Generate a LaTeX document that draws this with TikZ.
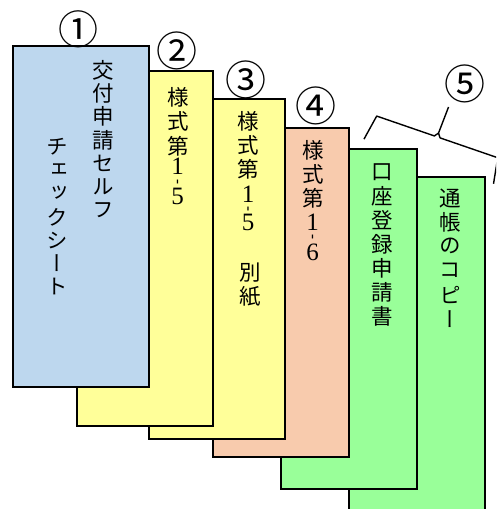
\documentclass[tikz,border=0pt]{standalone}
\usepackage{fontspec}
\newfontfamily\jpv[RawFeature={+vert}]{Noto Sans CJK JP}
\newfontfamily\jpn{Noto Sans CJK JP}
\newfontfamily\lser{Liberation Serif}
\definecolor{cblue}{HTML}{BDD7EE}
\definecolor{cyellow}{HTML}{FFFF99}
\definecolor{csalmon}{HTML}{F8CBAD}
\definecolor{cgreen}{HTML}{99FF99}
\begin{document}
\begin{tikzpicture}[x=1pt,y=-1pt,
  sheet/.style={draw=black,line width=1.6pt,minimum width=136pt,anchor=north west,inner sep=0pt},
  cj/.style={inner sep=0pt,font=\jpv\fontsize{21.5}{24}\selectfont},
  dg/.style={inner sep=0pt,font=\lser\fontsize{25}{25}\selectfont},
  hy/.style={inner sep=0pt,rotate=90,font=\lser\bfseries\fontsize{15}{15}\selectfont},
  num/.style={inner sep=0pt,font=\jpn\fontsize{41}{41}\selectfont},
  bracestyle/.style={draw=black,line width=1.4pt,line join=round}]
\useasboundingbox (0,0) rectangle (496,509);
\clip (0,0) rectangle (496,509);
% sheets, back to front
\node[sheet,fill=cgreen,minimum height=354pt] (s6) at (348,176) {};
\node[sheet,fill=cgreen,minimum height=340pt] (s5) at (280,148) {};
\node[sheet,fill=csalmon,minimum height=329pt] (s4) at (212,127) {};
\node[sheet,fill=cyellow,minimum height=340pt] (s3) at (148,98) {};
\node[sheet,fill=cyellow,minimum height=355pt] (s2) at (76,70) {};
\node[sheet,fill=cblue,minimum height=341pt] (s1) at (12,45) {};
% sheet 1 texts
\foreach \c [count=\i] in {交,付,申,請,セ,ル,フ}
  \node[cj] (ta\i) at (103,{70+23.3*(\i-1)}) {\c};
\foreach \c [count=\i] in {チ,ェ,ッ,ク,シ,ー,ト}
  \node[cj] (tb\i) at (57,{147+23.3*(\i-1)}) {\c};
% sheet 2
\foreach \c [count=\i] in {様,式,第}
  \node[cj] (tc\i) at (178,{97+24.5*(\i-1)}) {\c};
\node[dg] (dc1) at (177.5,166) {1};
\node[hy] (dc2) at (179,181.5) {-};
\node[dg] (dc3) at (177.5,196.5) {5};
% sheet 3
\foreach \c [count=\i] in {様,式,第}
  \node[cj] (td\i) at (248,{121.5+24*(\i-1)}) {\c};
\node[dg] (dd1) at (248,194) {1};
\node[hy] (dd2) at (249.5,208.5) {-};
\node[dg] (dd3) at (248,222.5) {5};
\node[cj] (td4) at (250,273) {別};
\node[cj] (td5) at (250,297) {紙};
% sheet 4
\foreach \c [count=\i] in {様,式,第}
  \node[cj] (te\i) at (313,{150.5+24*(\i-1)}) {\c};
\node[dg] (de1) at (312.5,222.5) {1};
\node[hy] (de2) at (314,236.5) {-};
\node[dg] (de3) at (312.5,252) {6};
% sheet 5
\foreach \c [count=\i] in {口,座,登,録,申,請,書}
  \node[cj] (tf\i) at (382,{172+24*(\i-1)}) {\c};
% sheet 6
\foreach \c [count=\i] in {通,帳,の,コ,ピ,ー}
  \node[cj] (tg\i) at (450,{198+24.2*(\i-1)}) {\c};
% numbers
\node[num,font=\jpn\fontsize{40}{40}\selectfont] (n1) at (78.5,29) {①};
\node[num] (n2) at (177,51) {②};
\node[num] (n3) at (246,80) {③};
\node[num] (n4) at (315.5,105.5) {④};
\node[num] (n5) at (465,83.5) {⑤};
% brace
\begin{scope}[shift={(437.2,136.9)},rotate=-19]
\coordinate (bl) at (-68.5,26);
\coordinate (br) at (68.5,26);
\coordinate (bt) at (1,-32);
\draw[bracestyle] (bl) -- (-64,0) -- (-3,0) -- (0,-4) -- (bt);
\draw[bracestyle] (0,-4) -- (3,0) -- (64,0) -- (br);
\end{scope}
\end{tikzpicture}
\end{document}
